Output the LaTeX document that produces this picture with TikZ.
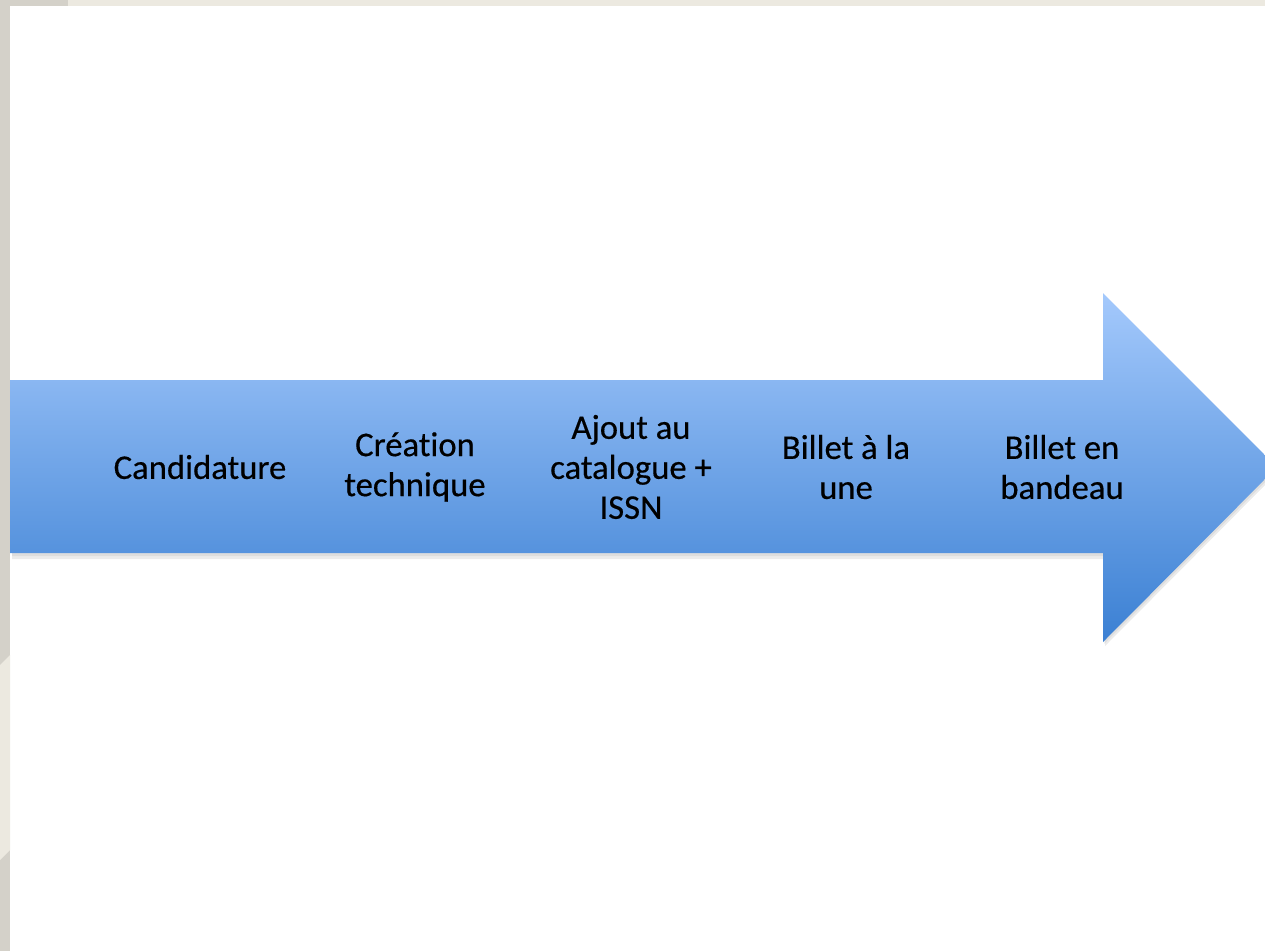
\documentclass[tikz,border=0pt]{standalone}
\usepackage{fontspec}
\setmainfont{Carlito}[Ligatures={NoCommon},FakeBold=0.4]
\usepackage{xcolor}
\usepackage{tikz}

\definecolor{arrowtop}{HTML}{A4C9FC}
\definecolor{arrowbot}{HTML}{3B80D3}
\definecolor{edgegrey}{HTML}{D4D1C9}
\definecolor{edgebeige}{HTML}{ECE9E0}

\tikzset{
  steptext/.style={anchor=center,inner sep=0.75pt,align=center,font=\fontsize{26}{30}\selectfont,text=black}
}

\begin{document}
\begin{tikzpicture}[x=0.75pt,y=0.75pt,yscale=-1,xscale=1]
\useasboundingbox (0,0) rectangle (1265,951);
\fill [white] (0,0) rectangle (1265,951);
% page edges
\fill [edgebeige] (60,0) rectangle (1265,6);
\fill [edgegrey] (0,0) rectangle (68,6);
\fill [edgegrey] (0,0) rectangle (10,951);
\fill [edgebeige] (0,665) -- (10,655) -- (10,850) -- (0,860) -- cycle ;
% shadow
\fill [black,opacity=0.08] (12,384) -- (1105,384) -- (1105,297) -- (1279,471) -- (1105,646) -- (1105,559) -- (12,559) -- cycle ;
\fill [black,opacity=0.06] (12,382) -- (1104,382) -- (1104,295) -- (1278,469) -- (1104,644) -- (1104,556) -- (12,556) -- cycle ;
% arrow
\shade [top color=arrowtop,bottom color=arrowbot] (10,380) -- (1103,380) -- (1103,293) -- (1277,467) -- (1103,642) -- (1103,553) -- (10,553) -- cycle ;
\draw (200,467) node [steptext] (cand) {Candidature};
\draw (415,467) node [steptext] (crea) {Création\\technique};
\draw (631,467) node [steptext] (ajout) {Ajout au\\catalogue +\\ISSN};
\draw (846,467) node [steptext] (une) {Billet à la\\une};
\draw (1062,467) node [steptext] (bandeau) {Billet en\\bandeau};
\end{tikzpicture}
\end{document}
